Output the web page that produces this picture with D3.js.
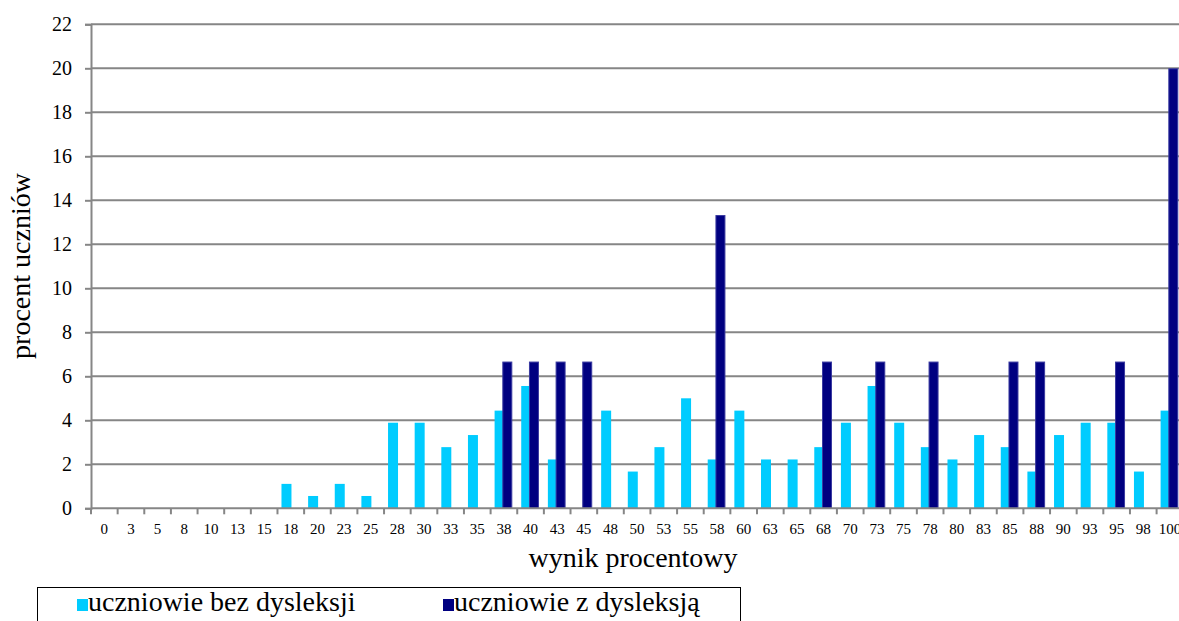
<!DOCTYPE html>
<html>
<head>
<meta charset="utf-8">
<script src="https://cdn.jsdelivr.net/npm/d3@7"></script>
<style>
  html, body { margin: 0; padding: 0; background: #fff; overflow: hidden; }
  svg { display: block; }
</style>
</head>
<body>
<svg id="chart" width="1179" height="621"></svg>
<script>
// Score categories (percent result)
const categories = ["0","3","5","8","10","13","15","18","20","23","25","28","30","33","35","38","40","43","45","48","50","53","55","58","60","63","65","68","70","73","75","78","80","83","85","88","90","93","95","98","100"];

// Percentage of students without dyslexia
const bezDysleksji = [0,0,0,0,0,0,0,1.11,0.56,1.11,0.56,3.89,3.89,2.78,3.33,4.44,5.56,2.22,0,4.44,1.67,2.78,5.0,2.22,4.44,2.22,2.22,2.78,3.89,5.56,3.89,2.78,2.22,3.33,2.78,1.67,3.33,3.89,3.89,1.67,4.44];

// Percentage of students with dyslexia
const zDysleksja = [0,0,0,0,0,0,0,0,0,0,0,0,0,0,0,6.67,6.67,6.67,6.67,0,0,0,0,13.33,0,0,0,6.67,0,6.67,0,6.67,0,0,6.67,6.67,0,0,6.67,0,20];

const yTicks = [0,2,4,6,8,10,12,14,16,18,20,22];

const seriesNames = ["uczniowie bez dysleksji", "uczniowie z dysleksją"];
const seriesColors = ["#00CCFF", "#000080"];

const FONT = "'Liberation Serif', 'Times New Roman', serif";

const svg = d3.select("#chart");
const plotLeft = 91, plotBottom = 508.3, plotTop = 24.3;
const bandW = 26.64;

const x = d3.scaleBand()
  .domain(categories)
  .range([plotLeft, plotLeft + bandW * categories.length])
  .paddingInner(0).paddingOuter(0);

const y = d3.scaleLinear().domain([0, 22]).range([plotBottom, plotTop]);

const gridColor = "#868686";

// Serif text placed directly on the root svg
function label(px, py, str, size, anchor) {
  return svg.append("text")
    .attr("x", px).attr("y", py)
    .attr("text-anchor", anchor || "start")
    .attr("font-family", FONT)
    .style("font-family", FONT)
    .style("font-size", size + "px")
    .attr("fill", "#000")
    .text(str);
}

// Horizontal gridlines
svg.append("g")
  .selectAll("line")
  .data(yTicks.filter(d => d > 0))
  .join("line")
  .attr("x1", plotLeft).attr("x2", 1179)
  .attr("y1", d => y(d)).attr("y2", d => y(d))
  .attr("stroke", gridColor).attr("stroke-width", 2);

// Y axis line and tick marks (labels drawn separately below)
const yAxis = d3.axisLeft(y).tickValues(yTicks).tickSize(6).tickFormat("");
const gy = svg.append("g").attr("transform", `translate(${plotLeft},0)`).call(yAxis);
gy.select(".domain").attr("stroke", gridColor).attr("stroke-width", 2);
gy.selectAll(".tick line").attr("stroke", gridColor).attr("stroke-width", 2);
gy.selectAll(".tick text").remove();

yTicks.forEach(t => {
  label(plotLeft - 19, y(t) + 7, String(t), 20, "end");
});

// Bars: series without dyslexia
const bw = x.bandwidth();
svg.append("g")
  .selectAll("rect")
  .data(categories.map((c, i) => ({ c, v: bezDysleksji[i] })).filter(d => d.v > 0))
  .join("rect")
  .attr("x", d => x(d.c) + bw * 0.15)
  .attr("width", bw * 0.375)
  .attr("y", d => y(d.v))
  .attr("height", d => y(0) - y(d.v))
  .attr("fill", seriesColors[0]);

// Bars: series with dyslexia
svg.append("g")
  .selectAll("rect")
  .data(categories.map((c, i) => ({ c, v: zDysleksja[i] })).filter(d => d.v > 0))
  .join("rect")
  .attr("x", d => x(d.c) + bw * 0.44 + 0.5)
  .attr("width", bw * 0.375 - 1)
  .attr("y", d => y(d.v) + 0.5)
  .attr("height", d => y(0) - y(d.v) - 0.5)
  .attr("fill", seriesColors[1])
  .attr("stroke", "#3a3aa0")
  .attr("stroke-width", 1);

// X axis: baseline and ticks at category boundaries
const gx = svg.append("g");
gx.append("line")
  .attr("x1", plotLeft).attr("x2", 1179)
  .attr("y1", plotBottom).attr("y2", plotBottom)
  .attr("stroke", gridColor).attr("stroke-width", 2);
gx.selectAll("line.tk")
  .data(categories.concat(["__end"]))
  .join("line")
  .attr("class", "tk")
  .attr("x1", (d, i) => plotLeft + i * bw).attr("x2", (d, i) => plotLeft + i * bw)
  .attr("y1", plotBottom).attr("y2", plotBottom + 6)
  .attr("stroke", gridColor).attr("stroke-width", 2);

// Category labels centred in their bands
categories.forEach(c => {
  label(x(c) + bw / 2, 533.5, c, 15, "middle");
});

// Axis titles
label(0, 0, "procent uczniów", 28, "middle")
  .attr("x", null).attr("y", null)
  .attr("transform", "translate(30,266) rotate(-90)");

label(633, 567, "wynik procentowy", 28, "middle");

// Legend
svg.append("rect")
  .attr("x", 37.5).attr("y", 587.5)
  .attr("width", 703).attr("height", 60)
  .attr("fill", "#fff").attr("stroke", "#000").attr("stroke-width", 1);
const legendX = [77, 443];
seriesNames.forEach((name, i) => {
  svg.append("rect")
    .attr("x", legendX[i]).attr("y", 599)
    .attr("width", 11).attr("height", 12)
    .attr("fill", seriesColors[i]);
  label(legendX[i] + 11, 611, name, 28);
});
</script>
</body>
</html>
